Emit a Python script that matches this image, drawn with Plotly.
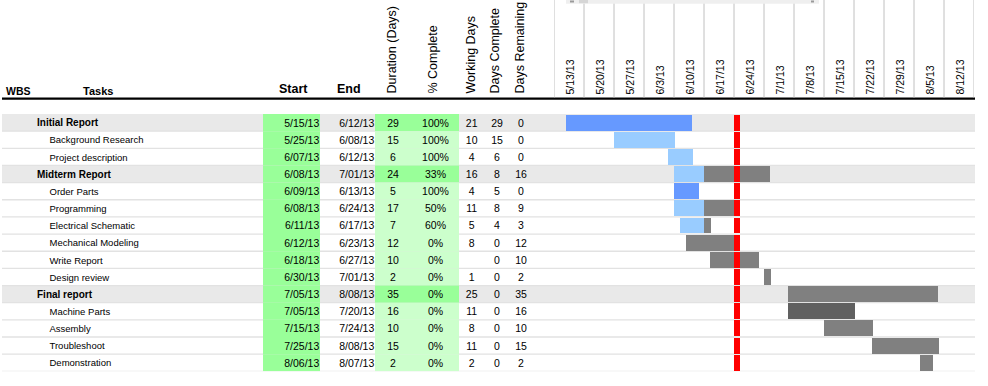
import pandas as pd
import plotly.graph_objects as go

# ---------------- data ----------------
tasks = ["Initial Report", "Background Research", "Project description", "Midterm Report",
         "Order Parts", "Programming", "Electrical Schematic", "Mechanical Modeling",
         "Write Report", "Design review", "Final report", "Machine Parts", "Assembly",
         "Troubleshoot", "Demonstration"]
is_group = [1, 0, 0, 1, 0, 0, 0, 0, 0, 0, 1, 0, 0, 0, 0]
start = ["5/15/13", "5/25/13", "6/07/13", "6/08/13", "6/09/13", "6/08/13", "6/11/13", "6/12/13",
         "6/18/13", "6/30/13", "7/05/13", "7/05/13", "7/15/13", "7/25/13", "8/06/13"]
end = ["6/12/13", "6/08/13", "6/12/13", "7/01/13", "6/13/13", "6/24/13", "6/17/13", "6/23/13",
       "6/27/13", "7/01/13", "8/08/13", "7/20/13", "7/24/13", "8/08/13", "8/07/13"]
duration = [29, 15, 6, 24, 5, 17, 7, 12, 10, 2, 35, 16, 10, 15, 2]
pct_complete = ["100%", "100%", "100%", "33%", "100%", "50%", "60%", "0%", "0%", "0%",
                "0%", "0%", "0%", "0%", "0%"]
working_days = [21, 10, 4, 16, 4, 11, 5, 8, "", 1, 25, 11, 8, 11, 2]
days_complete = [29, 15, 6, 8, 5, 8, 4, 0, 0, 0, 0, 0, 0, 0, 0]
days_remaining = [0, 0, 0, 16, 0, 9, 3, 12, 10, 2, 35, 16, 10, 15, 2]

# Gantt bars as drawn in the chart (days after 5/13/13)
chart_origin = "2013-05-13"
bar_start = [2.8, 14.0, 26.6, 28.0, 28.0, 28.0, 29.4, 30.8, 36.4, 49.0, 54.6, 54.6, 63.0, 74.2, 85.4]
bar_split = [32.2, 28.2, 32.4, 35.0, 33.8, 35.0, 35.0, 30.8, 36.4, 49.0, 54.6, 54.6, 63.0, 74.2, 85.4]
bar_end = [32.2, 28.2, 32.4, 50.4, 33.8, 42.0, 36.6, 42.0, 47.8, 50.6, 89.6, 70.2, 74.4, 89.8, 88.4]
done_color = ["#6699ff", "#99ccff", "#99ccff", "#99ccff", "#6699ff", "#99ccff", "#99ccff",
              "#99ccff", "#99ccff", "#99ccff", "#99ccff", "#99ccff", "#99ccff", "#99ccff", "#99ccff"]
remain_color = ["#808080"] * 11 + ["#606060", "#808080", "#808080", "#808080"]
today_day = 42.0
today_len = 1.45
n_weeks = 14

col_headers = ["Duration (Days)", "% Complete", "Working Days", "Days Complete", "Days Remaining"]

# ---------------- helpers ----------------
W, H = 988, 386
FONT = "Liberation Sans, Arial, sans-serif"
origin = pd.Timestamp(chart_origin)
rows = list(range(len(tasks)))
TEXT_DY = 0.08  # nudge table text to sit on the row centre


def day(d):
    return (origin + pd.to_timedelta(d, unit="D")).strftime("%Y-%m-%d %H:%M:%S")


def py(ypx):
    return 1 - ypx / H


def pxp(xpx):
    return xpx / W


MS_DAY = 86400000.0

fig = go.Figure()

# ---- gantt bars ----
fig.add_trace(go.Bar(
    y=rows, base=[day(s) for s in bar_start],
    x=[(e - s) * MS_DAY for s, e in zip(bar_start, bar_split)],
    orientation="h", marker=dict(color=done_color, line=dict(width=0)),
    width=0.93, xaxis="x", yaxis="y", hoverinfo="skip", showlegend=False))
fig.add_trace(go.Bar(
    y=rows, base=[day(s) for s in bar_split],
    x=[(e - s) * MS_DAY for s, e in zip(bar_split, bar_end)],
    orientation="h", marker=dict(color=remain_color, line=dict(width=0)),
    width=0.93, xaxis="x", yaxis="y", hoverinfo="skip", showlegend=False))
fig.add_trace(go.Bar(
    y=rows, base=[day(today_day)] * len(rows),
    x=[today_len * MS_DAY] * len(rows),
    orientation="h", marker=dict(color="#ff0000", line=dict(width=0)),
    width=0.93, xaxis="x", yaxis="y", hoverinfo="skip", showlegend=False))

# ---- table text ----
def text_trace(x, texts, pos, size, idx=None, bold=False):
    idx = rows if idx is None else idx
    t = [str(s) for s in texts]
    if bold:
        t = ["<b>" + s + "</b>" for s in t]
    return go.Scatter(x=[x] * len(t), y=[r + TEXT_DY for r in idx], text=t, mode="text",
                      textposition=pos,
                      textfont=dict(family=FONT, size=size, color="#000"),
                      xaxis="x2", yaxis="y", hoverinfo="skip", showlegend=False,
                      cliponaxis=False)


grp_rows = [i for i in rows if is_group[i]]
sub_rows = [i for i in rows if not is_group[i]]
fig.add_trace(text_trace(37, [tasks[i] for i in grp_rows], "middle right", 10, grp_rows, True))
fig.add_trace(text_trace(49.5, [tasks[i] for i in sub_rows], "middle right", 9.5, sub_rows))
fig.add_trace(text_trace(319.3, start, "middle left", 10.5))
fig.add_trace(text_trace(374.3, end, "middle left", 10.5))
fig.add_trace(text_trace(393, duration, "middle center", 10.5))
fig.add_trace(text_trace(435.5, pct_complete, "middle center", 10.5))
fig.add_trace(text_trace(471.7, working_days, "middle center", 10.5))
fig.add_trace(text_trace(497, days_complete, "middle center", 10.5))
fig.add_trace(text_trace(521, days_remaining, "middle center", 10.5))

# ---- shapes ----
shapes = []
for i in rows:
    if is_group[i]:
        shapes.append(dict(type="rect", xref="paper", yref="y", x0=pxp(2), x1=pxp(975),
                           y0=i - 0.5, y1=i + 0.5, fillcolor="#e9e9e9", line=dict(width=0),
                           layer="below"))
    shapes.append(dict(type="rect", xref="x2", yref="y", x0=263, x1=320,
                       y0=i - 0.5, y1=i + 0.5, fillcolor="#99ff99", line=dict(width=0),
                       layer="below"))
    shapes.append(dict(type="rect", xref="x2", yref="y", x0=375, x1=459,
                       y0=i - 0.5, y1=i + 0.5,
                       fillcolor="#99ff99" if is_group[i] else "#ccffcc",
                       line=dict(width=0), layer="below"))
for i in rows:
    shapes.append(dict(type="line", xref="paper", yref="y", x0=pxp(2), x1=pxp(975),
                       y0=i + 0.5, y1=i + 0.5, line=dict(color="#e2e2e2", width=1.3),
                       layer="below"))
# header rule
shapes.append(dict(type="line", xref="paper", yref="paper", x0=pxp(2), x1=pxp(975),
                   y0=py(98.7), y1=py(98.7), line=dict(color="#000", width=2.2)))
# week grid in header
weeks = [origin + pd.Timedelta(days=7 * k) for k in range(n_weeks + 1)]
for wk in weeks:
    shapes.append(dict(type="line", xref="x", yref="paper", x0=wk, x1=wk,
                       y0=py(0), y1=py(97.6), line=dict(color="#c0c0c0", width=1)))
# scrollbar remnant at top
shapes.append(dict(type="rect", xref="paper", yref="paper", x0=pxp(566), x1=pxp(819),
                   y0=py(3.7), y1=py(0), fillcolor="#efefef", line=dict(width=0)))
shapes.append(dict(type="rect", xref="paper", yref="paper", x0=pxp(579), x1=pxp(588),
                   y0=py(3.2), y1=py(0), fillcolor="#d6d6d6", line=dict(width=0)))
shapes.append(dict(type="rect", xref="paper", yref="paper", x0=pxp(570), x1=pxp(574),
                   y0=py(2.5), y1=py(0.5), fillcolor="#9a9a9a", line=dict(width=0)))
shapes.append(dict(type="rect", xref="paper", yref="paper", x0=pxp(811), x1=pxp(814),
                   y0=py(2.5), y1=py(0.5), fillcolor="#9a9a9a", line=dict(width=0)))

# ---- annotations ----
ann = []
def hdr(text, x, y, size, bold=True):
    ann.append(dict(text=("<b>%s</b>" % text) if bold else text, x=x, y=py(y), xref="x2",
                    yref="paper", xanchor="left", yanchor="middle", showarrow=False,
                    font=dict(family=FONT, size=size, color="#000")))

hdr("WBS", 3.5, 91, 10.5)
hdr("Tasks", 80.5, 91, 11)
hdr("Start", 277, 89.5, 12.5)
hdr("End", 335, 89.5, 12.5)

for txt, cx in zip(col_headers, [391, 432, 470, 494.5, 519]):
    ann.append(dict(text=txt, x=cx, y=py(95.5), xref="x2", yref="paper", xanchor="center",
                    yanchor="bottom", textangle=-90, showarrow=False,
                    font=dict(family=FONT, size=12.5, color="#000")))

for wk in weeks[:-1]:
    ann.append(dict(text=f"{wk.month}/{wk.day}/{wk:%y}", x=wk + pd.Timedelta(days=3.5),
                    y=py(97), xref="x", yref="paper", xanchor="center", yanchor="bottom",
                    textangle=-90, showarrow=False,
                    font=dict(family=FONT, size=10.5, color="#000")))

fig.update_layout(
    width=W, height=H, margin=dict(l=0, r=0, t=0, b=0),
    paper_bgcolor="white", plot_bgcolor="rgba(0,0,0,0)",
    barmode="overlay", bargap=0, showlegend=False,
    shapes=shapes, annotations=ann,
    xaxis=dict(type="date", domain=[pxp(554), pxp(974)],
               range=[origin, origin + pd.Timedelta(days=7 * n_weeks)],
               showgrid=False, zeroline=False, showticklabels=False, showline=False,
               anchor="y", fixedrange=True),
    xaxis2=dict(domain=[0, pxp(550)], range=[0, 550], showgrid=False, zeroline=False,
                showticklabels=False, showline=False, anchor="y", fixedrange=True),
    yaxis=dict(domain=[py(371.3), py(114)], range=[len(tasks) - 0.5, -0.5],
               showgrid=False, zeroline=False, showticklabels=False, showline=False,
               anchor="x", fixedrange=True),
)

fig.write_html("out.html", config={"displayModeBar": False},
               post_script="document.body.style.margin='0';document.body.style.overflow='hidden';")
